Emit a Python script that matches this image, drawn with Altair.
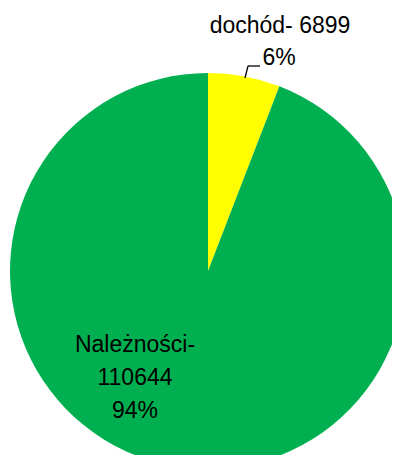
import altair as alt
import pandas as pd

categories = ["dochód", "Należności"]
values = [6899, 110644]
percents = ["6%", "94%"]
colors = ["#FFFF00", "#00B050"]

df = pd.DataFrame({"cat": categories, "val": values, "order": [0, 1]})

FONT = "Liberation Sans"
FS = 23

pie = alt.Chart(df).mark_arc(radius=198, stroke=None).encode(
    theta=alt.Theta("val:Q", stack=True),
    order=alt.Order("order:Q"),
    color=alt.Color("cat:N", scale=alt.Scale(domain=categories, range=colors), legend=None),
    x=alt.value(200),
    y=alt.value(263),
)

lab_df = pd.DataFrame({
    "t1": [f"{categories[0]}- {values[0]}"],
    "t2": [percents[0]],
    "t3": [f"{categories[1]}-"],
    "t4": [str(values[1])],
    "t5": [percents[1]],
})

base = alt.Chart(lab_df)

def txt(field, x, y):
    return base.mark_text(font=FONT, fontSize=FS, color="#000000", align="center", baseline="alphabetic").encode(
        text=f"{field}:N", x=alt.value(x), y=alt.value(y)
    )

labels = (
    txt("t1", 272, 25)
    + txt("t2", 271, 57)
    + txt("t3", 127, 344)
    + txt("t4", 127, 377)
    + txt("t5", 127, 410)
)

lead1 = base.mark_rule(color="#000000", strokeWidth=1.3).encode(
    x=alt.value(237), y=alt.value(70), x2=alt.value(240), y2=alt.value(58)
)
lead2 = base.mark_rule(color="#000000", strokeWidth=1.3).encode(
    x=alt.value(240), y=alt.value(58), x2=alt.value(252), y2=alt.value(58)
)

chart = alt.layer(pie, lead1, lead2, labels).properties(
    width=384, height=447, autosize=alt.AutoSizeParams(type="none"), padding=0
).configure_view(stroke=None)

chart.save("out.html", embed_options={"renderer": "svg", "actions": False})
